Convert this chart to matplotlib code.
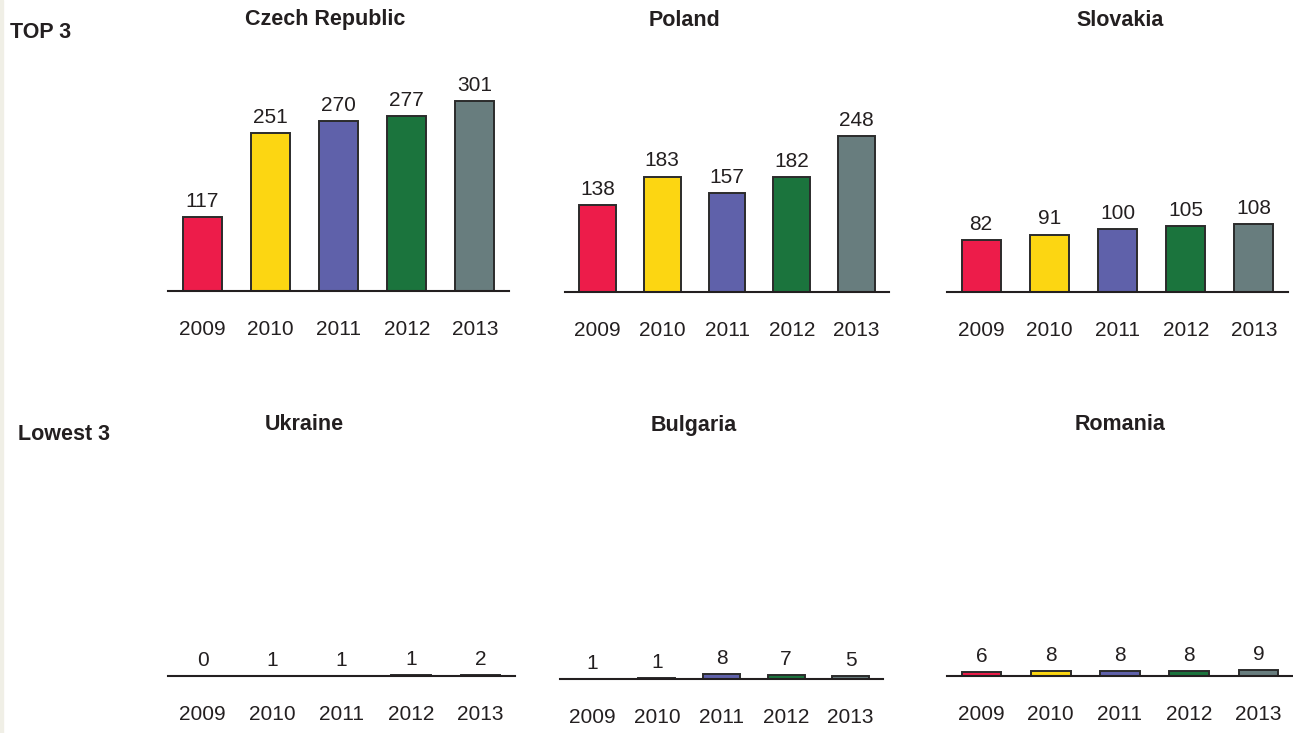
import numpy as np
import matplotlib.pyplot as plt
from matplotlib.patches import Rectangle

plt.rcParams['font.family'] = ['Liberation Sans', 'DejaVu Sans']

years = ["2009", "2010", "2011", "2012", "2013"]
colors = ["#ED1C4A", "#FCD612", "#5F61AA", "#1B743D", "#687D7E"]

top_names = ["Czech Republic", "Poland", "Slovakia"]
czech = [117, 251, 270, 277, 301]
poland = [138, 183, 157, 182, 248]
slovakia = [82, 91, 100, 105, 108]

low_names = ["Ukraine", "Bulgaria", "Romania"]
ukraine = [0, 1, 1, 1, 2]
ukraine_bars = [0, 0, 0, 1.5, 1.8]
bulgaria = [1, 1, 8, 7, 5]
bulgaria_bars = [0, 1.5, 8, 6, 4]
romania = [6, 8, 8, 8, 9]

W, H = 1293, 733
fig = plt.figure(figsize=(W / 100, H / 100), dpi=100)
fig.add_artist(Rectangle((0, 0), 3 / W, 1, transform=fig.transFigure,
                         color="#f0efe6", zorder=-1))

# panel boxes in pixels: left, right, baseline
boxes = [
    (168, 509, 291), (565, 889, 292), (947, 1288, 292),
    (168, 515, 676), (560, 883, 679), (947, 1293, 676),
]
title_pos = [(325, 20), (685, 20), (1120, 20), (304, 425), (694, 425), (1120, 425)]

panels = [
    (top_names[0], czech, czech), (top_names[1], poland, poland),
    (top_names[2], slovakia, slovakia),
    (low_names[0], ukraine, ukraine_bars), (low_names[1], bulgaria, bulgaria_bars),
    (low_names[2], romania, romania),
]

ymax = 360
px_per_unit = 0.63
x = np.arange(len(years))

for (name, labels, heights), (l, r, base), (tx, ty) in zip(panels, boxes, title_pos):
    hpx = ymax * px_per_unit
    ax = fig.add_axes([l / W, (H - base) / H, (r - l) / W, hpx / H])
    ax.bar(x, heights, width=0.57, color=colors, edgecolor="#2b2b2b", linewidth=1.4)
    for xi, v, h in zip(x, labels, heights):
        ax.annotate(str(v), (xi, h), xytext=(0, 4.5), textcoords="offset points",
                    ha="center", va="bottom", fontsize=15, color="#231f20")
    ax.set_xlim(-0.5, 4.5)
    ax.set_ylim(0, ymax)
    ax.set_xticks(x)
    ax.set_xticklabels(years, fontsize=15, color="#231f20")
    ax.tick_params(axis="x", length=0, pad=21)
    ax.set_yticks([])
    for s in ["top", "left", "right"]:
        ax.spines[s].set_visible(False)
    ax.spines["bottom"].set_linewidth(1.5)
    ax.spines["bottom"].set_color("#231f20")
    ax.patch.set_alpha(0)
    fig.text(tx / W, 1 - ty / H, name, ha="center", va="center",
             fontsize=15.5, fontweight="bold", color="#231f20")

fig.text(10 / W, 1 - 32 / H, "TOP 3", ha="left", va="center",
         fontsize=15.5, fontweight="bold", color="#231f20")
fig.text(18 / W, 1 - 434 / H, "Lowest 3", ha="left", va="center",
         fontsize=15.5, fontweight="bold", color="#231f20")

fig.savefig("out.png", dpi=100)
